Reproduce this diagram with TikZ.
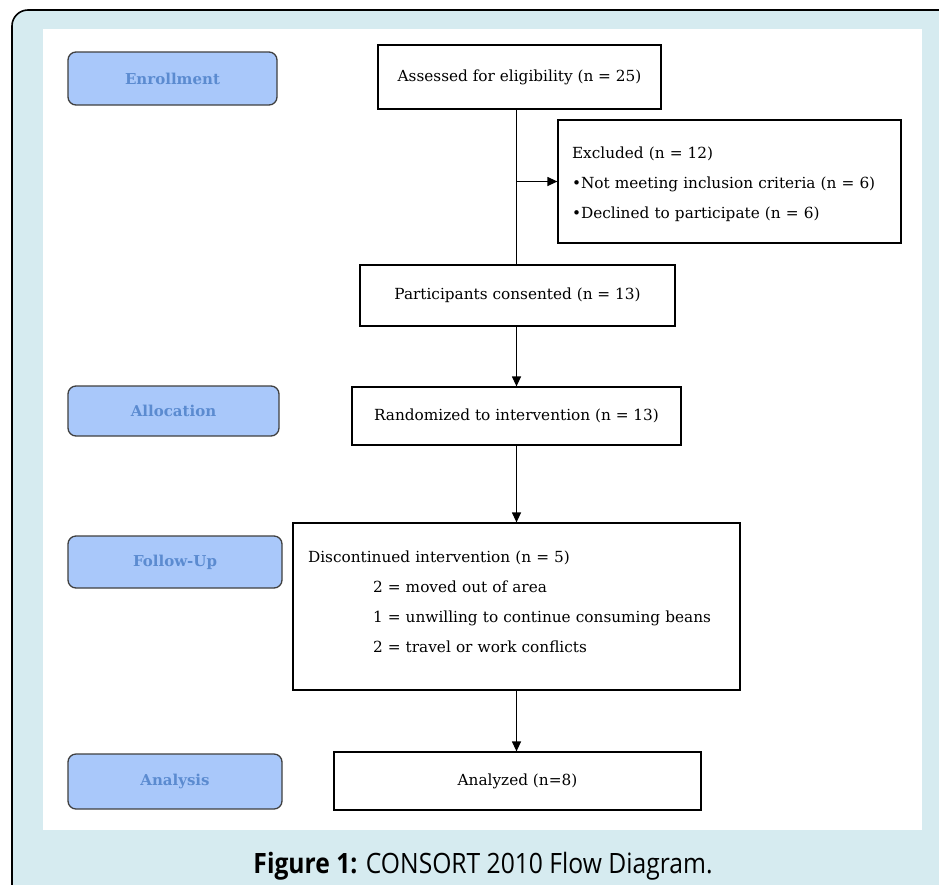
\documentclass[tikz,border=0pt]{standalone}
\usepackage{fontspec}
\setmainfont{DejaVu Serif}
\newfontfamily\capfont[FakeStretch=0.88]{Open Sans}
\usetikzlibrary{positioning,arrows.meta}
\definecolor{framebg}{HTML}{D6EBF0}
\definecolor{phasefill}{HTML}{A9C8FA}
\definecolor{phasetext}{HTML}{5B8BD0}
\tikzset{
  phase/.style={draw=black!75, line width=1.3pt, rounded corners=8pt, fill=phasefill,
    text=phasetext, font=\fontsize{15}{18}\selectfont\bfseries},
  stage/.style={draw, line width=1.2pt, fill=white, font=\fontsize{15.3}{18}\selectfont},
  listbox/.style={stage, align=left, font=\fontsize{15.3}{30}\selectfont},
  flow/.style={line width=1.2pt, -{Triangle[length=10pt,width=9pt]}}
}
\begin{document}
\begin{tikzpicture}[x=1pt, y=-1pt]
\useasboundingbox (0,0) rectangle (939,884);
\clip (0,0) rectangle (939,884);
%%% frame %%%
\fill[white] (0,0) rectangle (939,884);
\draw[fill=framebg, rounded corners=16pt, line width=1.6pt] (12,10) rectangle (980,920);
\fill[white] (43,29) rectangle (922,830);

%% phases
\node[phase, minimum width=209, minimum height=53] (enrol) at (172.5,78.5) {Enrollment};
\node[phase, minimum width=211, minimum height=50] (alloc) at (173.5,411) {Allocation};
\node[phase, minimum width=214, minimum height=52] (follow) at (175,562) {Follow-Up};
\node[phase, minimum width=214, minimum height=55] (analysis) at (175,781.5) {Analysis};

%% flow boxes
\node[stage, minimum width=283, minimum height=64] (assess) at (519.5,77) {Assessed for eligibility (n = 25)};
\node[listbox, minimum width=343, minimum height=123, inner xsep=14, text width=315] (excl) at (729.5,181.5)
  {\rule{0pt}{17pt}Excluded (n = 12)\\\textbullet Not meeting inclusion criteria (n = 6)\\\textbullet Declined to participate (n = 6)};
\node[stage, minimum width=315, minimum height=61] (consent) at (517.5,295.5) {Participants consented (n = 13)};
\node[stage, minimum width=329, minimum height=58] (rand) at (516.5,416) {Randomized to intervention (n = 13)};
\node[listbox, minimum width=447, minimum height=167, inner xsep=15, text width=417] (discont) at (516.5,606.5)
  {Discontinued intervention (n = 5)\\
   \hspace*{65pt}2 = moved out of area\\
   \hspace*{65pt}1 = unwilling to continue consuming beans\\
   \hspace*{65pt}2 = travel or work conflicts\\[-20pt]\mbox{}};
\node[stage, minimum width=367, minimum height=58] (analyzed) at (517.5,781) {Analyzed (n=8)};

%% connectors
\coordinate (split) at (516.5,181.5);
\draw[line width=1.2pt] (assess.south -| rand) -- (consent.north -| rand);
\draw[flow] (split) -- (excl.west);
\draw[flow] (consent.south -| rand) -- (rand.north);
\draw[flow] (rand) -- (discont);
\draw[flow] (discont.south) -- (discont.south |- analyzed.north);

%% caption
\node[font=\capfont\fontsize{28}{30}\selectfont] (cap) at (483,866) {\textbf{Figure 1:} CONSORT 2010 Flow Diagram.};
\end{tikzpicture}
\end{document}
